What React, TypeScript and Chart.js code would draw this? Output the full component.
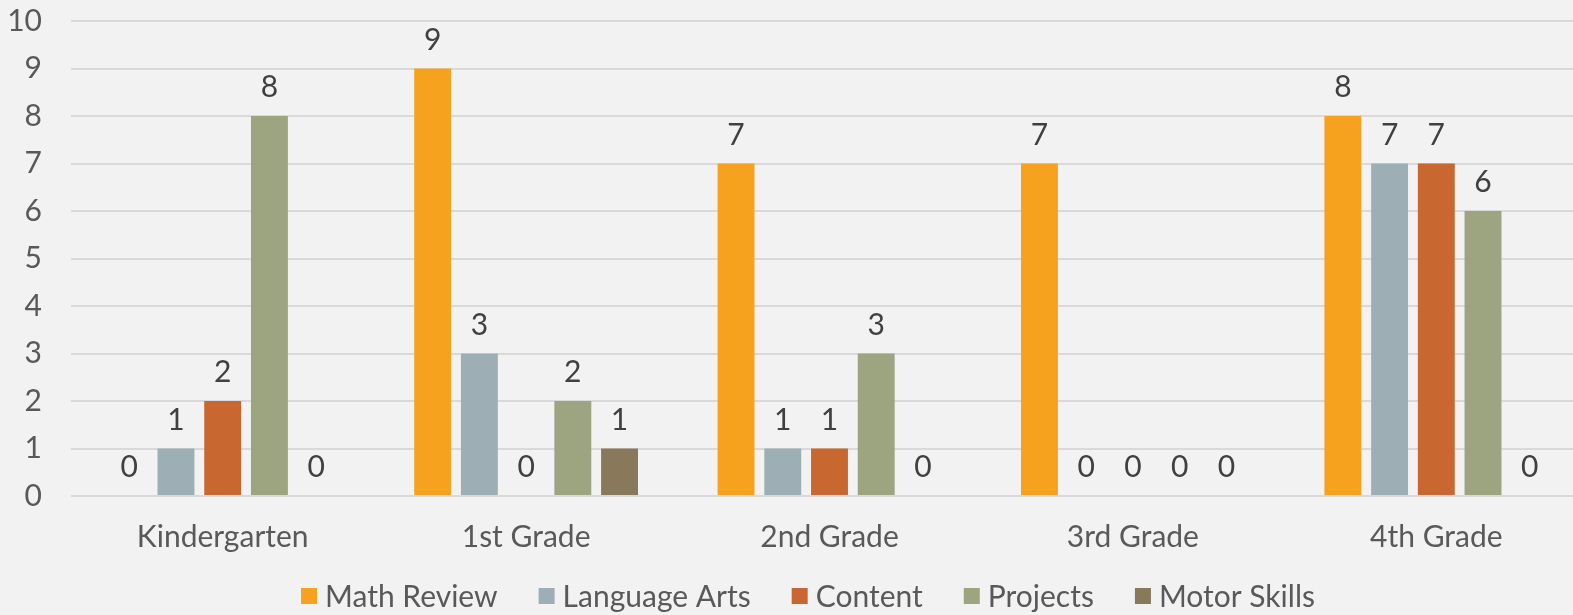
import React, { useEffect, useRef } from "react";
import { Chart, registerables } from "chart.js";

Chart.register(...registerables);

const categories = ["Kindergarten", "1st Grade", "2nd Grade", "3rd Grade", "4th Grade"];
const seriesNames = ["Math Review", "Language Arts", "Content", "Projects", "Motor Skills"];
const mathReview = [0, 9, 7, 7, 8];
const languageArts = [1, 3, 1, 0, 7];
const content = [2, 0, 1, 0, 7];
const projects = [8, 2, 3, 0, 6];
const motorSkills = [0, 1, 0, 0, 0];
const seriesColors = ["#F6A21E", "#9DAFB5", "#C8672F", "#9CA480", "#88795A"];

const FONT = "Lato, 'DejaVu Sans', sans-serif";
const FS = 30;

const dataLabels = {
  id: "dataLabels",
  afterDatasetsDraw(chart: any) {
    const ctx = chart.ctx;
    ctx.save();
    ctx.font = `${FS}px ${FONT}`;
    ctx.fillStyle = "#404040";
    ctx.textAlign = "center";
    ctx.textBaseline = "alphabetic";
    chart.data.datasets.forEach((ds: any, i: number) => {
      const meta = chart.getDatasetMeta(i);
      meta.data.forEach((el: any, j: number) => {
        ctx.fillText(String(ds.data[j]), el.x, el.y - 19);
      });
    });
    ctx.restore();
  },
};

const bottomLegend = {
  id: "bottomLegend",
  afterDraw(chart: any) {
    const ctx = chart.ctx;
    ctx.save();
    ctx.font = `${FS}px ${FONT}`;
    const box = 16;
    const boxGap = 8;
    const itemGap = 41;
    const items = chart.data.datasets.map((ds: any) => ({
      text: ds.label,
      color: ds.backgroundColor,
      w: ctx.measureText(ds.label).width,
    }));
    const total = items.reduce((s: number, it: any) => s + box + boxGap + it.w, 0) + itemGap * (items.length - 1);
    let x = chart.width / 2 + 13 - total / 2;
    const cy = 596;
    ctx.textBaseline = "middle";
    ctx.textAlign = "left";
    items.forEach((it: any) => {
      ctx.fillStyle = it.color;
      ctx.fillRect(x, cy - box / 2, box, box);
      ctx.fillStyle = "#595959";
      ctx.fillText(it.text, x + box + boxGap, cy + 1);
      x += box + boxGap + it.w + itemGap;
    });
    ctx.restore();
  },
};

export default function App() {
  const ref = useRef<HTMLCanvasElement>(null);
  useEffect(() => {
    if (!ref.current) return;
    const all = [mathReview, languageArts, content, projects, motorSkills];
    const chart = new Chart(ref.current, {
      type: "bar",
      data: {
        labels: categories,
        datasets: all.map((d, i) => ({
          label: seriesNames[i],
          data: d,
          backgroundColor: seriesColors[i],
          borderWidth: 0,
          categoryPercentage: 0.77,
          barPercentage: 0.79,
        })),
      },
      options: {
        responsive: false,
        animation: false,
        devicePixelRatio: 1,
        layout: { padding: { top: 21, right: 2, left: 0, bottom: 49 } },
        plugins: {
          tooltip: { enabled: false },
          legend: { display: false },
        },
        scales: {
          x: {
            grid: { display: false, drawTicks: false },
            border: { display: false },
            ticks: { color: "#595959", font: { family: FONT, size: FS }, padding: 23 },
            afterFit(scale: any) {
              scale.height = 70;
            },
          },
          y: {
            min: 0,
            max: 10,
            grid: { color: "#D9D9D9", lineWidth: 2, drawTicks: false },
            border: { display: false },
            ticks: {
              stepSize: 1,
              color: "#595959",
              font: { family: FONT, size: FS, lineHeight: 0.3 },
              padding: 29,
            },
            afterFit(scale: any) {
              scale.width = 71;
              scale.paddingTop = 0;
              scale.paddingBottom = 0;
            },
          },
        },
      },
      plugins: [dataLabels, bottomLegend],
    });
    return () => chart.destroy();
  }, []);
  return (
    <div style={{ position: "fixed", left: 0, top: 0, width: 1573, height: 615, overflow: "hidden", background: "#F2F2F2" }}>
      <canvas ref={ref} width={1590} height={615} style={{ display: "block" }} />
    </div>
  );
}
